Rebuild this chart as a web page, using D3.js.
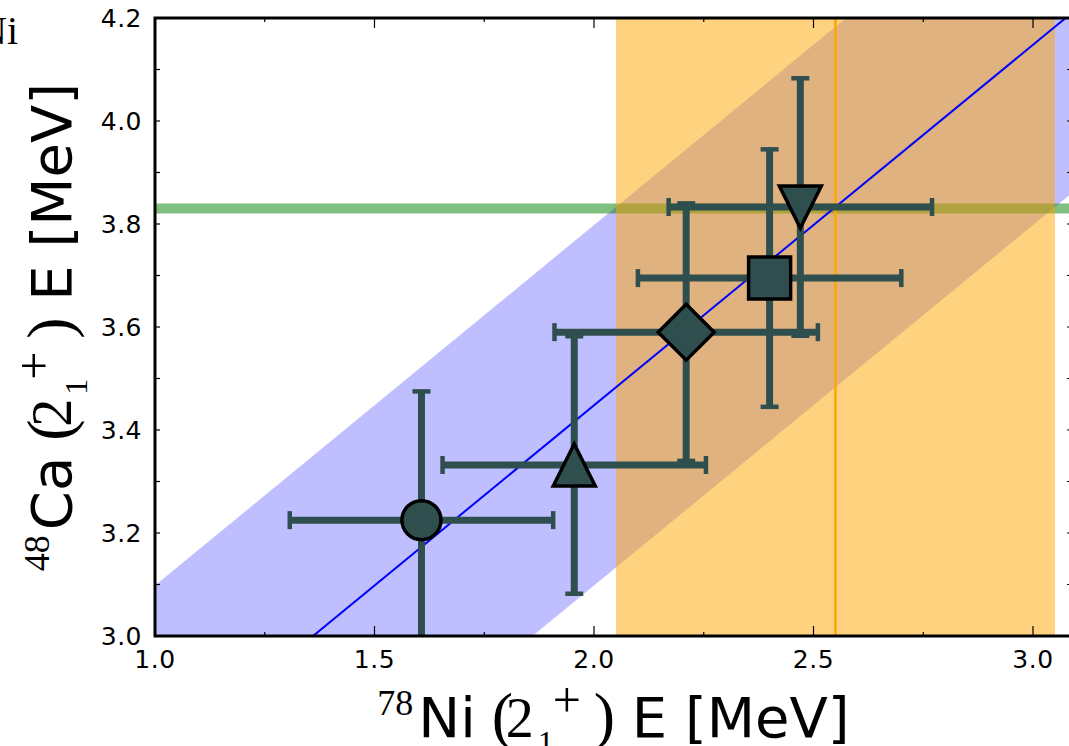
<!DOCTYPE html>
<html>
<head>
<meta charset="utf-8">
<script src="https://cdn.jsdelivr.net/npm/d3@7"></script>
<style>
  html, body { margin: 0; padding: 0; background: #fff; }
  svg { display: block; }
  .tick-label { font-family: "DejaVu Sans", sans-serif; font-size: 25px; letter-spacing: 0.5px; fill: #000; }
</style>
</head>
<body>
<svg id="chart" width="1069" height="746"></svg>
<script>
// calculated 2+ energies: 78Ni vs 48Ca, with linear correlation band
const nickelE = [1.607, 1.955, 2.21, 2.40, 2.47];
const calciumE = [3.225, 3.332, 3.59, 3.695, 3.833];
const nickelErr = [0.30, 0.30, 0.30, 0.30, 0.30];
const calciumErr = [0.25, 0.25, 0.25, 0.25, 0.25];
const markerKinds = ['circle', 'triangle-up', 'diamond', 'square', 'triangle-down'];

// correlation fit  y = slope * x + intercept, band +- halfWidth
const fitSlope = [0.70];
const fitIntercept = [2.048];
const fitHalfWidth = [0.35];

// 78Ni experimental window and value, 48Ca experimental value
const nickelWindow = [2.05, 3.05];
const nickelValue = [2.55];
const calciumValue = [3.83];

const xTicksMajor = [1.0, 1.5, 2.0, 2.5, 3.0];
const xTicksMinor = [1.25, 1.75, 2.25, 2.75];
const yTicks = [3.0, 3.1, 3.2, 3.3, 3.4, 3.5, 3.6, 3.7, 3.8, 3.9, 4.0, 4.1, 4.2];
const yTickLabels = [3.0, 3.2, 3.4, 3.6, 3.8, 4.0, 4.2];

const svg = d3.select('#chart');
const sans = '"DejaVu Sans", sans-serif';
const serif = '"Liberation Serif", "DejaVu Serif", serif';

const pLeft = 155, pRight = 1072, pTop = 18, pBottom = 636;
const x = d3.scaleLinear().domain([1.0, 1.0 + (pRight - pLeft) / 439]).range([pLeft, pRight]);
const y = d3.scaleLinear().domain([3.0, 4.2]).range([pBottom, pTop]);

svg.append('defs').append('clipPath').attr('id', 'plot-clip')
  .append('rect').attr('x', pLeft).attr('y', pTop).attr('width', pRight - pLeft).attr('height', pBottom - pTop);

const plot = svg.append('g').attr('clip-path', 'url(#plot-clip)');

// blue correlation band
const fit = v => fitSlope[0] * v + fitIntercept[0];
const bandXs = x.domain();
plot.append('path')
  .datum(bandXs)
  .attr('d', d3.area().x(d => x(d)).y0(d => y(fit(d) - fitHalfWidth[0])).y1(d => y(fit(d) + fitHalfWidth[0])))
  .attr('fill', 'blue').attr('fill-opacity', 0.25);

// green horizontal line (48Ca)
plot.append('line')
  .attr('x1', pLeft).attr('x2', pRight)
  .attr('y1', y(calciumValue[0])).attr('y2', y(calciumValue[0]))
  .attr('stroke', 'green').attr('stroke-opacity', 0.5).attr('stroke-width', 10);

// orange window (78Ni)
plot.append('rect')
  .attr('x', x(nickelWindow[0])).attr('width', x(nickelWindow[1]) - x(nickelWindow[0]))
  .attr('y', pTop).attr('height', pBottom - pTop)
  .attr('fill', 'orange').attr('fill-opacity', 0.5);

plot.append('line')
  .attr('x1', x(nickelValue[0])).attr('x2', x(nickelValue[0]))
  .attr('y1', pTop).attr('y2', pBottom)
  .attr('stroke', 'orange').attr('stroke-width', 2.5);

// fit line
plot.append('path')
  .datum(bandXs)
  .attr('d', d3.line().x(d => x(d)).y(d => y(fit(d))))
  .attr('stroke', 'blue').attr('stroke-width', 2).attr('fill', 'none');

// error bars
const pts = nickelE.map((v, i) => ({x: v, y: calciumE[i], ex: nickelErr[i], ey: calciumErr[i], kind: markerKinds[i]}));
const ebColor = '#2f4f4f';
const eb = plot.append('g').attr('stroke', ebColor);
pts.forEach(p => {
  eb.append('line').attr('x1', x(p.x - p.ex)).attr('x2', x(p.x + p.ex)).attr('y1', y(p.y)).attr('y2', y(p.y)).attr('stroke-width', 7);
  eb.append('line').attr('x1', x(p.x)).attr('x2', x(p.x)).attr('y1', y(p.y - p.ey)).attr('y2', y(p.y + p.ey)).attr('stroke-width', 7);
  [p.x - p.ex, p.x + p.ex].forEach(v => {
    eb.append('line').attr('x1', x(v)).attr('x2', x(v)).attr('y1', y(p.y) - 9).attr('y2', y(p.y) + 9).attr('stroke-width', 4.5);
  });
  [p.y - p.ey, p.y + p.ey].forEach(v => {
    eb.append('line').attr('y1', y(v)).attr('y2', y(v)).attr('x1', x(p.x) - 9).attr('x2', x(p.x) + 9).attr('stroke-width', 4.5);
  });
});

// markers
const shapes = {
  'circle': 'M19.5,0A19.5,19.5 0 1,1 -19.5,0A19.5,19.5 0 1,1 19.5,0Z',
  'square': 'M-21,-21L21,-21L21,21L-21,21Z',
  'diamond': 'M0,-28L28,0L0,28L-28,0Z',
  'triangle-up': 'M0,-21L21,21L-21,21Z',
  'triangle-down': 'M0,21L21,-21L-21,-21Z'
};
plot.selectAll('.marker').data(pts).join('path')
  .attr('class', 'marker')
  .attr('transform', d => `translate(${x(d.x)},${y(d.y)})`)
  .attr('d', d => shapes[d.kind])
  .attr('fill', ebColor).attr('stroke', '#000').attr('stroke-width', 3.5)
  .attr('stroke-linejoin', 'miter');

// ticks (inward, mirrored on all sides)
const ticks = svg.append('g').attr('stroke', '#000').attr('stroke-width', 1.2);
xTicksMajor.forEach(v => {
  ticks.append('line').attr('x1', x(v)).attr('x2', x(v)).attr('y1', pBottom).attr('y2', pBottom - 10);
  ticks.append('line').attr('x1', x(v)).attr('x2', x(v)).attr('y1', pTop).attr('y2', pTop + 10);
});
xTicksMinor.forEach(v => {
  ticks.append('line').attr('x1', x(v)).attr('x2', x(v)).attr('y1', pBottom).attr('y2', pBottom - 4);
  ticks.append('line').attr('x1', x(v)).attr('x2', x(v)).attr('y1', pTop).attr('y2', pTop + 4);
});
yTicks.forEach(v => {
  ticks.append('line').attr('y1', y(v)).attr('y2', y(v)).attr('x1', pLeft).attr('x2', pLeft + 5);
  ticks.append('line').attr('y1', y(v)).attr('y2', y(v)).attr('x1', pRight).attr('x2', pRight - 5);
});

// spines
svg.append('rect')
  .attr('x', pLeft).attr('y', pTop).attr('width', pRight - pLeft).attr('height', pBottom - pTop)
  .attr('fill', 'none').attr('stroke', '#000').attr('stroke-width', 3);

// tick labels
svg.selectAll('.xl').data(xTicksMajor).join('text')
  .attr('class', 'tick-label').attr('x', d => x(d)).attr('y', 668)
  .attr('text-anchor', 'middle').text(d => d.toFixed(1));
svg.selectAll('.yl').data(yTickLabels).join('text')
  .attr('class', 'tick-label').attr('x', 142).attr('y', d => y(d)).attr('dy', '0.36em')
  .attr('text-anchor', 'end').text(d => d.toFixed(1));

// axis titles: ^{A}X (2^+_1) E [MeV], laid out piece by piece
function piece(g, txt, at, font, size, rise) {
  const t = g.append('text').attr('x', at).attr('y', -rise)
    .style('font-family', font).style('font-size', size + 'px').attr('fill', '#000').text(txt);
  return t.node().getComputedTextLength();
}
function axisTitle(g, mass, elem) {
  const wMass = piece(g, mass, 0, serif, 36, 22);
  const ex = wMass + 5;
  const wElem = piece(g, elem, ex, sans, 56, 0);
  const p = ex + wElem + 18;
  piece(g, '(', p - 2, serif, 64, 0);
  piece(g, '2', p + 12, serif, 56, 0);
  piece(g, '1', p + 44, serif, 32, -16);
  piece(g, '+', p + 59, serif, 50, 20);
  piece(g, ')', p + 100, serif, 64, 0);
  const wE = piece(g, 'E [MeV]', p + 138, sans, 56, 0);
  return p + 138 + wE;
}
const xt = svg.append('g');
const xw = axisTitle(xt, '78', 'Ni');
xt.attr('transform', `translate(${(pLeft + pRight) / 2 - xw / 2},737)`);

const yt = svg.append('g');
const yw = axisTitle(yt, '48', 'Ca');
yt.attr('transform', `translate(71,${(pTop + pBottom) / 2 + yw / 2}) rotate(-90)`);

// clipped text from neighbouring panel
svg.append('text').attr('x', 18).attr('y', 44).attr('text-anchor', 'end')
  .style('font-family', serif).style('font-size', '40px').text('Ni');
</script>
</body>
</html>
